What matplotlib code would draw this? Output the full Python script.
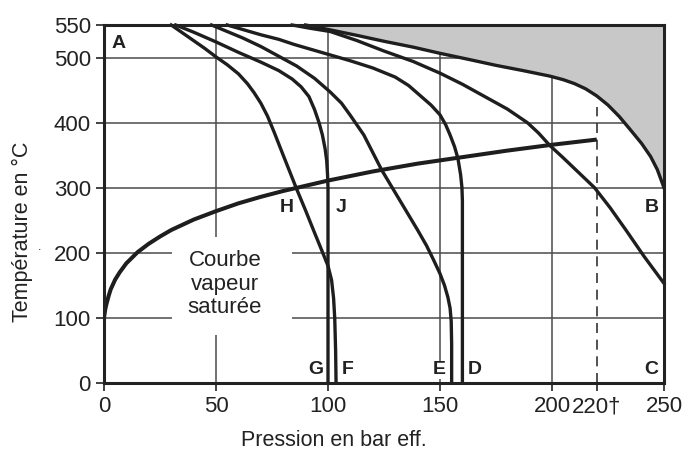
import matplotlib
matplotlib.use("Agg")
import matplotlib.pyplot as plt
from matplotlib.patches import Rectangle

plt.rcParams['font.family'] = ['Liberation Sans', 'DejaVu Sans']

# saturated steam curve (pressure bar eff., temperature C)
sat_p = [0, 0.5, 1, 2, 3, 5, 7, 10, 15, 20, 25, 30, 40, 50, 60, 70, 80, 90, 100, 120, 140, 160, 180, 200, 220]
sat_t = [100, 112, 120, 133, 144, 159, 170, 184, 201, 214, 225, 235, 251, 264, 276, 286, 295, 303, 311, 325, 337, 347, 357, 366, 374]

# curve ending in F (passes H)
f_p = [30, 35, 40, 45, 50, 55, 60, 64, 67, 70, 73, 76, 80, 86, 90, 93.5, 96, 98, 100, 101.6, 102.5, 103, 103.4, 103.6]
f_t = [550, 538, 526, 514, 501, 489, 475, 460, 446, 430, 410, 385, 350, 298, 265, 235, 214, 197, 180, 158, 130, 100, 50, 0]

# curve ending in G (passes J)
g_p = [32, 40, 50, 60, 70, 78, 84, 88, 91.5, 94, 96, 97.5, 98.7, 99.4, 99.8, 100, 100]
g_t = [550, 539, 524, 508, 493, 480, 467, 455, 440, 420, 400, 381, 360, 342, 320, 300, 0]

# curve ending in E
e_p = [48, 55, 62, 70, 78, 86, 94, 101, 106, 110, 116, 120, 124, 128, 132, 136, 140, 144, 147, 150, 152,
       153.5, 154.5, 155, 155.2, 155.2]
e_t = [550, 540, 530, 517, 502, 487, 468, 447, 430, 411, 381, 354, 327, 304, 281, 258, 235, 211, 190, 168, 150,
       132, 115, 95, 60, 0]

# curve ending in D
d_p = [55, 63, 70, 78, 85, 93, 101, 110, 120, 130, 136, 141, 146, 150, 152.5, 154.5, 156.5, 158, 159.2, 159.8,
       160, 160]
d_t = [550, 542, 535, 528, 520, 512, 504, 495, 484, 470, 457, 442, 427, 412, 397, 381, 363, 345, 320, 300,
       280, 0]

# curve ending in C
c_p = [84, 92, 101, 113, 125, 138, 150, 160, 170, 180, 189, 194, 199, 205, 212, 219, 226, 233, 241, 250]
c_t = [550, 545, 540, 526, 510, 494, 476, 459, 440, 421, 400, 384, 365, 346, 323, 300, 269, 235, 195, 153]

# limit curve A-B (grey zone above)
b_p = [90, 101, 113, 125, 138, 150, 163, 175, 187, 199, 205, 210, 215, 220, 225, 230, 235, 240, 244, 247, 250]
b_t = [550, 542.5, 534, 525, 516, 506.5, 497, 488, 480, 471.5, 466, 460, 452, 441, 427, 409.5, 389, 368, 348, 328, 300]

x_ticks = [0, 50, 100, 150, 200, 220, 250]
x_labels = ['0', '50', '100', '150', '200', '220†', '250']
y_ticks = [0, 100, 200, 300, 400, 500, 550]

point_labels = ['A', 'B', 'C', 'D', 'E', 'F', 'G', 'H', 'J']
point_x = [6.5, 244.5, 244.5, 165.5, 149.5, 109, 94.5, 81.5, 106]
point_y = [522, 270, 20, 20, 20, 20, 20, 270, 270]

fig = plt.figure(figsize=(6.83, 4.5), dpi=100)
ax = fig.add_axes([104 / 683, 1 - 383 / 450, 560 / 683, 358 / 450])
ax.set_xlim(0, 250)
ax.set_ylim(0, 550)

for gx in [50, 100, 150, 200]:
    ax.axvline(gx, color='#4a4a4a', lw=1.1, zorder=0.5)
for gy in [100, 200, 300, 400, 500]:
    ax.axhline(gy, color='#4a4a4a', lw=1.1, zorder=0.5)

ax.fill_between(b_p, b_t, 550, color='#c8c8c8', lw=0, zorder=0.8)

ax.add_patch(Rectangle((30.5, 74), 53.5, 150, facecolor='white', edgecolor='none', zorder=1))
ax.text(54, 152, 'Courbe\nvapeur\nsaturée', ha='center', va='center', fontsize=16,
        linespacing=1.15, color='#222222', zorder=1.2)

ax.plot([220, 220], [0, 424], color='#333333', lw=1.2, dashes=(6, 4), zorder=1.5)

lc = '#1e1e1e'
ax.plot(sat_p, sat_t, color=lc, lw=2.9, solid_capstyle='butt', solid_joinstyle='round', zorder=3)
for px, pt in [(f_p, f_t), (g_p, g_t), (e_p, e_t), (d_p, d_t), (c_p, c_t), (b_p, b_t)]:
    ax.plot(px, pt, color=lc, lw=2.4, solid_joinstyle='round', zorder=3, clip_on=False)

for lab, lx, ly in zip(point_labels, point_x, point_y):
    ax.text(lx, ly, lab, ha='center', va='center', fontsize=14, fontweight='bold', color='#222222',
            bbox=dict(facecolor='white', edgecolor='none', pad=0.5), zorder=2)

for s in ax.spines.values():
    s.set_linewidth(2.2)
    s.set_color('#222222')
    s.set_zorder(4)

ax.set_xticks(x_ticks)
ax.set_xticklabels(x_labels)
ax.set_yticks(y_ticks)
ax.tick_params(direction='out', length=6, width=1.2, pad=3.5, labelsize=16, colors='#222222')

fig.text(334 / 683, 1 - 440 / 450, 'Pression en bar eff.', ha='center', va='center', fontsize=15.5, color='#222222')
fig.text(22 / 683, 1 - 232 / 450, 'Température en °C', ha='center', va='center', rotation=90,
         fontsize=15.5, color='#222222')
fig.text(40 / 683, 1 - 247 / 450, '.', ha='center', va='center', fontsize=9, color='#222222')

fig.savefig('out.png', dpi=100)
